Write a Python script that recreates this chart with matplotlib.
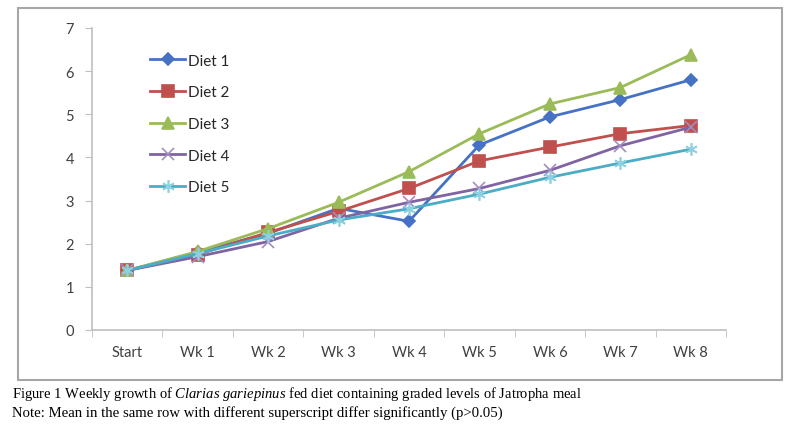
import matplotlib.pyplot as plt
import matplotlib.patches as mpatches

plt.rcParams['mathtext.fontset'] = 'custom'
plt.rcParams['mathtext.rm'] = 'Liberation Serif'
plt.rcParams['mathtext.it'] = 'Liberation Serif:italic'

weeks = ['Start', 'Wk 1', 'Wk 2', 'Wk 3', 'Wk 4', 'Wk 5', 'Wk 6', 'Wk 7', 'Wk 8']
diet1 = [1.38, 1.80, 2.24, 2.82, 2.52, 4.29, 4.94, 5.34, 5.80]
diet2 = [1.38, 1.75, 2.26, 2.75, 3.28, 3.92, 4.24, 4.55, 4.74]
diet3 = [1.38, 1.82, 2.35, 2.96, 3.67, 4.55, 5.24, 5.62, 6.38]
diet4 = [1.38, 1.70, 2.05, 2.59, 2.96, 3.28, 3.70, 4.27, 4.70]
diet5 = [1.38, 1.77, 2.18, 2.55, 2.81, 3.15, 3.54, 3.87, 4.19]
labels = ['Diet 1', 'Diet 2', 'Diet 3', 'Diet 4', 'Diet 5']

colors = ['#4572C4', '#C0504D', '#9BBB59', '#8064A2', '#4BACC6']
markers = ['D', 's', '^', 'x', (6, 2, 0)]
msizes = [6, 8, 8, 8, 9]
mecs = ['#4572C4', '#C0504D', '#9BBB59', '#A38DC0', '#8DD0E0']

fig = plt.figure(figsize=(8, 4.39), dpi=100)
ax = fig.add_axes([92/800, 1-331/439, 634/800, 302/439])

x = list(range(len(weeks)))
for data, lab, c, m, ms, mec in zip([diet1, diet2, diet3, diet4, diet5],
                                    labels, colors, markers, msizes, mecs):
    ax.plot(x, data, color=c, lw=2, marker=m, ms=ms, mfc=c, mec=mec,
            mew=1.2, label=lab)

ax.set_xlim(-0.5, 8.5)
ax.set_ylim(0, 7)
ax.set_yticks(range(8))
ax.set_xticks(x)
ax.set_xticklabels(weeks)
ax.set_xticks([i - 0.5 for i in range(10)], minor=True)
ax.tick_params(axis='x', which='major', length=0, pad=11)
ax.tick_params(axis='x', which='minor', length=5, color='#BFBFBF', direction='out')
ax.tick_params(axis='y', length=5, color='#BFBFBF', pad=8)
for lab in ax.get_xticklabels() + ax.get_yticklabels():
    lab.set_fontfamily('Lato')
    lab.set_fontsize(10.5)
    lab.set_color('#404040')
for s in ['top', 'right']:
    ax.spines[s].set_visible(False)
for s in ['left', 'bottom']:
    ax.spines[s].set_color('#BFBFBF')
    ax.spines[s].set_linewidth(1.2)

leg = ax.legend(loc='upper left', bbox_to_anchor=(0.07, 0.96), frameon=False,
                labelspacing=1.15, handlelength=2.3, handletextpad=0.15,
                prop={'family': 'Lato', 'size': 11})
for t in leg.get_texts():
    t.set_color('#262626')

border = mpatches.Rectangle((18/800, 1-381/439), 764/800, 372/439,
                            transform=fig.transFigure, fill=False,
                            edgecolor='#A6A6A6', lw=1.5)
fig.patches.append(border)

fig.text(12/800, 1-398/439, 'Figure 1 Weekly growth of $\\it{Clarias\\ gariepinus}$ '
         'fed diet containing graded levels of Jatropha meal',
         family='Liberation Serif', fontsize=10.5, va='baseline')
fig.text(12/800, 1-417/439, 'Note: Mean in the same row with different superscript '
         'differ significantly (p>0.05)',
         family='Liberation Serif', fontsize=10.6, va='baseline')

fig.savefig('out.png', dpi=100)
